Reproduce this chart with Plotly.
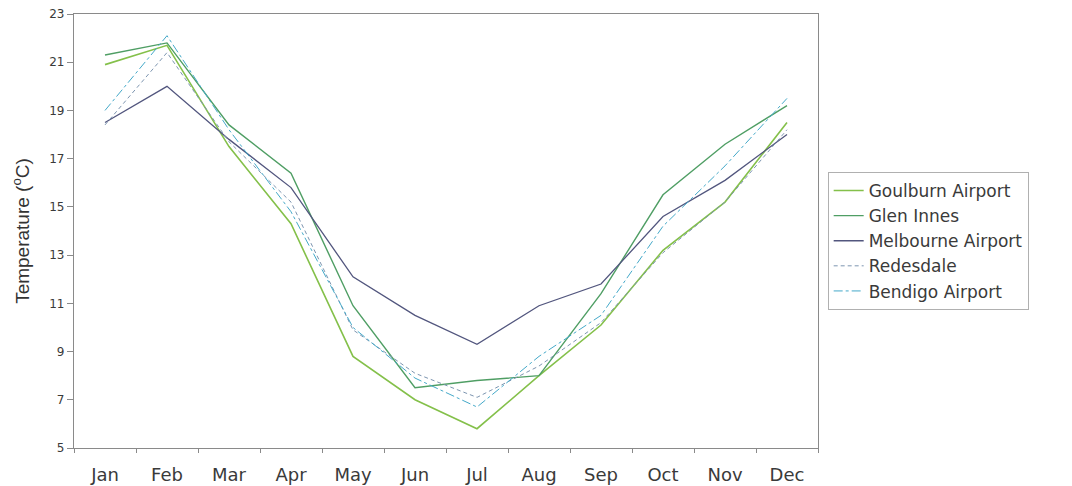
import plotly.graph_objects as go

months = ["Jan", "Feb", "Mar", "Apr", "May", "Jun", "Jul", "Aug", "Sep", "Oct", "Nov", "Dec"]

goulburn_airport = [20.9, 21.7, 17.5, 14.3, 8.8, 7.0, 5.8, 8.0, 10.1, 13.2, 15.2, 18.5]
glen_innes = [21.3, 21.8, 18.4, 16.4, 10.9, 7.5, 7.8, 8.0, 11.4, 15.5, 17.6, 19.2]
melbourne_airport = [18.5, 20.0, 17.8, 15.8, 12.1, 10.5, 9.3, 10.9, 11.8, 14.6, 16.1, 18.0]
redesdale = [18.4, 21.4, 17.7, 15.2, 9.9, 8.1, 7.1, 8.4, 10.2, 13.1, 15.2, 18.2]
bendigo_airport = [19.0, 22.1, 18.2, 14.8, 10.0, 7.9, 6.7, 8.8, 10.5, 14.2, 16.7, 19.5]

y_ticks = [5, 7, 9, 11, 13, 15, 17, 19, 21, 23]

series = [
    ("Goulburn Airport", goulburn_airport, "#84c04a", "solid", 1.6),
    ("Glen Innes", glen_innes, "#4f9e64", "solid", 1.4),
    ("Melbourne Airport", melbourne_airport, "#52567e", "solid", 1.3),
    ("Redesdale", redesdale, "#7d95b0", "4px,3px", 1.0),
    ("Bendigo Airport", bendigo_airport, "#44a9c9", "dashdot", 1.0),
]

WIDE = "DejaVu Sans, Verdana, sans-serif"

fig = go.Figure()
for name, vals, color, dash, width in series:
    fig.add_trace(go.Scatter(
        x=months, y=vals, name=name, mode="lines",
        line=dict(color=color, dash=dash, width=width),
    ))

fig.update_layout(
    width=1072, height=486,
    margin=dict(l=74, r=254, t=14, b=38),
    paper_bgcolor="white", plot_bgcolor="white",
    font=dict(family=WIDE, color="#333333"),
    legend=dict(
        x=1.013, y=0.636, xanchor="left", yanchor="top",
        bordercolor="#b0b0b0", borderwidth=1,
        font=dict(size=17, family=WIDE, color="#3a3a3a"),
        itemwidth=30, tracegroupgap=0,
    ),
    showlegend=True,
)

fig.update_xaxes(
    type="category", categoryorder="array", categoryarray=months,
    range=[-0.5, 11.5], automargin=False,
    showgrid=False, zeroline=False,
    showline=True, linecolor="#8a8a8a", linewidth=1.2, mirror=True,
    ticks="outside", ticklen=4, tickcolor="#8a8a8a", tickson="boundaries",
    tickfont=dict(size=18, family=WIDE, color="#3a3a3a"),
    ticklabelstandoff=10,
)

fig.update_yaxes(
    range=[5, 23], tickvals=y_ticks, automargin=False,
    showgrid=False, zeroline=False,
    showline=True, linecolor="#8a8a8a", linewidth=1.2, mirror=True,
    ticks="outside", ticklen=6, tickcolor="#8a8a8a",
    tickfont=dict(size=12, family=WIDE, color="#3a3a3a"),
    title=dict(
        text="Temperature (<sup>o</sup>C)",
        font=dict(size=19, family="Liberation Sans Narrow, Arial Narrow, Liberation Sans, sans-serif", color="#333333"),
        standoff=14,
    ),
)

fig.write_html("out.html")
